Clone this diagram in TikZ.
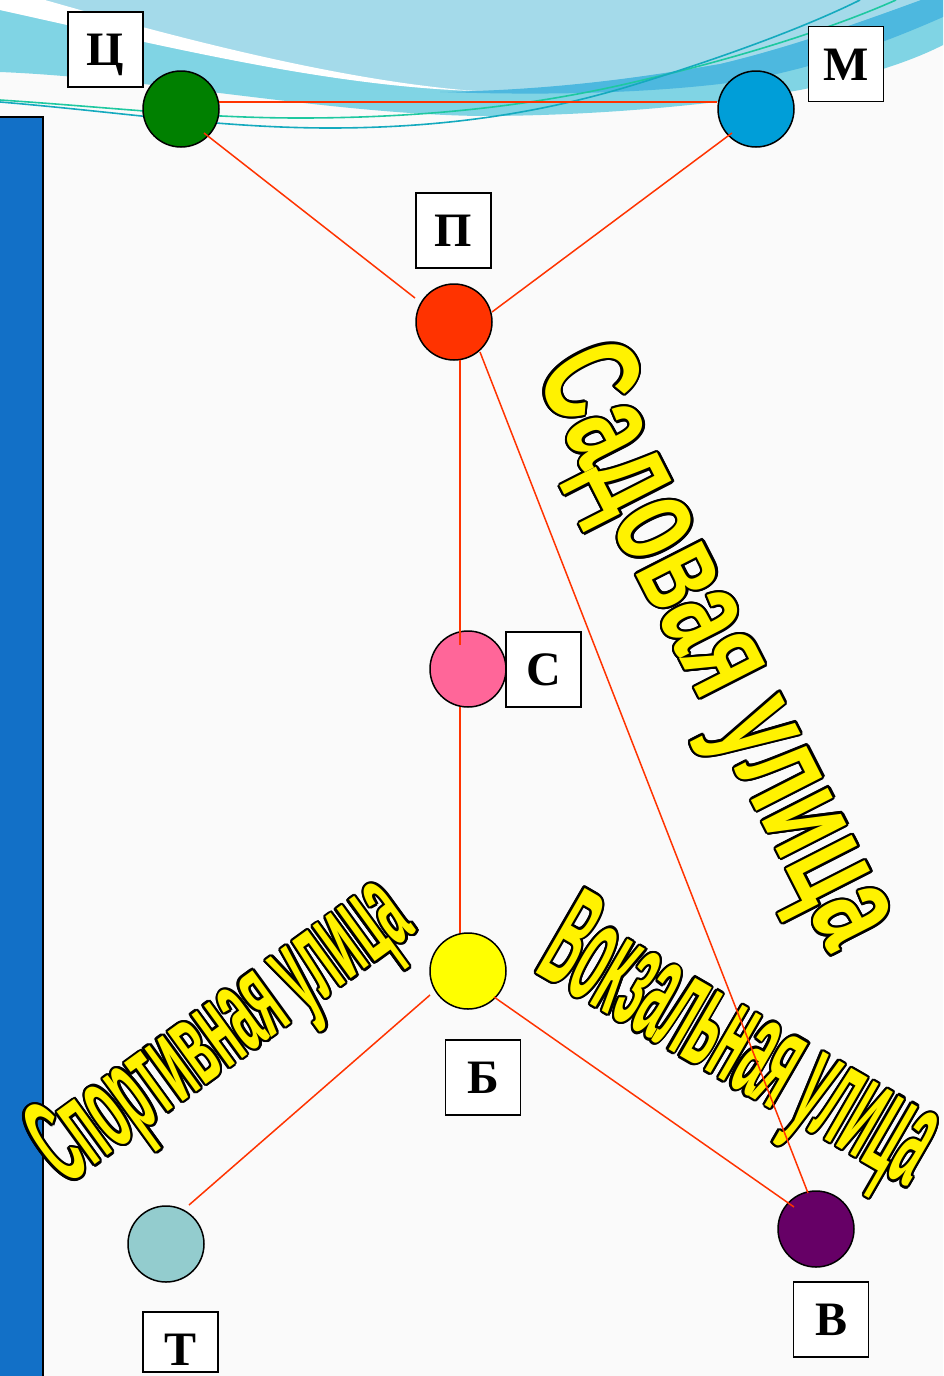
\documentclass[tikz,border=0pt]{standalone}
\usepackage{fontspec}
\usepackage{graphicx}
\setmainfont{Liberation Serif}
\newfontfamily\streetfont{Liberation Sans}
\usetikzlibrary{calc}
\definecolor{roadred}{RGB}{255,51,0}
\definecolor{cGreen}{RGB}{0,128,0}
\definecolor{cBlue}{RGB}{0,158,216}
\definecolor{cRed}{RGB}{255,51,0}
\definecolor{cPink}{RGB}{255,102,153}
\definecolor{cYellow}{RGB}{255,255,0}
\definecolor{cTeal}{RGB}{147,204,206}
\definecolor{cPurple}{RGB}{102,0,102}
\definecolor{barblue}{RGB}{18,112,199}
\definecolor{waveLight}{RGB}{164,218,234}
\definecolor{waveCyan}{RGB}{128,212,228}
\definecolor{waveDark}{RGB}{77,184,223}
\definecolor{lineTeal}{RGB}{20,170,190}
\definecolor{lineGreen}{RGB}{30,200,160}
\definecolor{paper}{RGB}{250,250,250}
\newbox\olbox
\newlength\olx
\newlength\oly
\newcommand\outl[3]{%
  \setlength\olx{#1}\setlength\oly{#2}%
  \setbox\olbox\hbox{#3}%
  \hbox{\color{black}%
    \rlap{\kern\olx\copy\olbox}%
    \rlap{\kern-\olx\copy\olbox}%
    \rlap{\raise\oly\copy\olbox}%
    \rlap{\lower\oly\copy\olbox}%
    \rlap{\kern.71\olx\raise.71\oly\copy\olbox}%
    \rlap{\kern.71\olx\lower.71\oly\copy\olbox}%
    \rlap{\kern-.71\olx\raise.71\oly\copy\olbox}%
    \rlap{\kern-.71\olx\lower.71\oly\copy\olbox}%
    \rlap{\kern.92\olx\raise.38\oly\copy\olbox}%
    \rlap{\kern.92\olx\lower.38\oly\copy\olbox}%
    \rlap{\kern-.92\olx\raise.38\oly\copy\olbox}%
    \rlap{\kern-.92\olx\lower.38\oly\copy\olbox}%
    \rlap{\kern.38\olx\raise.92\oly\copy\olbox}%
    \rlap{\kern.38\olx\lower.92\oly\copy\olbox}%
    \rlap{\kern-.38\olx\raise.92\oly\copy\olbox}%
    \rlap{\kern-.38\olx\lower.92\oly\copy\olbox}%
    \color{yellow}\copy\olbox}}
\tikzset{
  stop/.style={circle, draw=black, line width=1.5pt, minimum size=76pt, inner sep=0pt},
  lbl/.style={draw=black, fill=white, line width=1.6pt, minimum size=75pt, inner sep=0pt,
    text height=32pt, text depth=0pt, font=\fontsize{48}{50}\selectfont\bfseries},
  road/.style={draw=roadred, line width=1.5pt},
  street/.style={anchor=base west, inner sep=0pt},
}
\begin{document}
\begin{tikzpicture}[x=1pt,y=-1pt]
% background
\fill[paper] (0,0) rectangle (943,1376);
\useasboundingbox (0,0) rectangle (943,1376);
% waves
\fill[waveCyan] (0,0) -- (943,0) -- (943,45)
  .. controls (910,62) and (860,78) .. (800,90)
  .. controls (720,104) and (600,116) .. (480,116)
  .. controls (330,114) and (150,78) .. (0,72) -- cycle;
\fill[waveLight] (0,0) -- (943,0) -- (943,-8)
  .. controls (880,15) and (800,45) .. (720,64)
  .. controls (650,76) and (560,90) .. (470,91)
  .. controls (330,85) and (180,50) .. (0,10) -- cycle;
\fill[waveDark] (440,92)
  .. controls (560,90) and (650,76) .. (720,64)
  .. controls (800,45) and (880,15) .. (943,-8)
  -- (943,17)
  .. controls (880,45) and (800,74) .. (720,84)
  .. controls (650,92) and (560,96) .. (440,92) -- cycle;
\fill[white] (0,0) -- (45,0)
  .. controls (150,30) and (330,80) .. (475,91)
  .. controls (330,86) and (180,50) .. (0,10) -- cycle;
\draw[lineGreen, line width=1.6pt] (0,100) .. controls (120,108) and (200,118) .. (300,118)
  .. controls (450,118) and (560,100) .. (643,80) .. controls (750,55) and (840,25) .. (896,0);
\draw[lineTeal, line width=1.6pt] (0,102) .. controls (120,112) and (220,128) .. (330,128)
  .. controls (470,128) and (570,105) .. (643,82) .. controls (730,55) and (810,25) .. (860,0);
% left bar
\fill[barblue] (0,117) rectangle (43,1376);
\draw[black, line width=2pt] (0,117) -- (43,117) -- (43,1377);
% street names
\node[street, rotate=-63] (sad) at (534,373)
  {\resizebox{653pt}{100pt}{\outl{3.5pt}{2.2pt}{\streetfont\bfseries\fontsize{137}{140}\selectfont Садовая улица}}};
\node[street, rotate=-30] (vok) at (533,971)
  {\resizebox{432pt}{100pt}{\outl{6.3pt}{2.2pt}{\streetfont\bfseries\fontsize{137}{140}\selectfont Вокзальная улица}}};
\node[street, rotate=36] (spo) at (65,1187)
  {\resizebox{435pt}{88pt}{\outl{6pt}{2.2pt}{\streetfont\bfseries\fontsize{120}{124}\selectfont Спортивная улица}}};
% stops
\node[stop, fill=cGreen]  (Cc) at (181,109) {};
\node[stop, fill=cBlue]   (Mc) at (756,109) {};
\node[stop, fill=cRed]    (Pc) at (454,322) {};
\node[stop, fill=cPink]   (Sc) at (468,669) {};
\node[stop, fill=cYellow] (Bc) at (468,971) {};
\node[stop, fill=cTeal]   (Tc) at (166,1244) {};
\node[stop, fill=cPurple] (Vc) at (816,1229) {};
% roads
\draw[road] ($(Cc)+(38,-7)$) -- ($(Mc)+(-39,-7)$);
\draw[road] ($(Cc)+(23,24)$) -- ($(Pc)+(-39,-24)$);
\draw[road] ($(Mc)+(-24,24)$) -- ($(Pc)+(38,-10)$);
\draw[road] ($(Pc)+(6,38)$) -- ($(Sc)+(-8,-24)$);
\draw[road] ($(Pc)+(26,30)$) -- ($(Vc)+(-8,-36)$);
\draw[road] ($(Sc)+(-8,38)$) -- ($(Bc)+(-8,-38)$);
\draw[road] ($(Bc)+(-38,24)$) -- ($(Tc)+(23,-39)$);
\draw[road] ($(Bc)+(26,26)$) -- ($(Vc)+(-22,-22)$);
% labels
\node[lbl] (Cl) at (105.5,49.5) {Ц};
\node[lbl] (Ml) at (846,64) {М};
\node[lbl] (Pl) at (453.5,230.5) {П};
\node[lbl] (Sl) at (543.5,669.5) {С};
\node[lbl] (Bl) at (483,1077.5) {Б};
\node[lbl, minimum height=60pt, text height=47pt] (Tl) at (180.5,1342) {Т\hspace{15pt}};
\node[lbl] (Vl) at (831,1319.5) {В};
\end{tikzpicture}
\end{document}
